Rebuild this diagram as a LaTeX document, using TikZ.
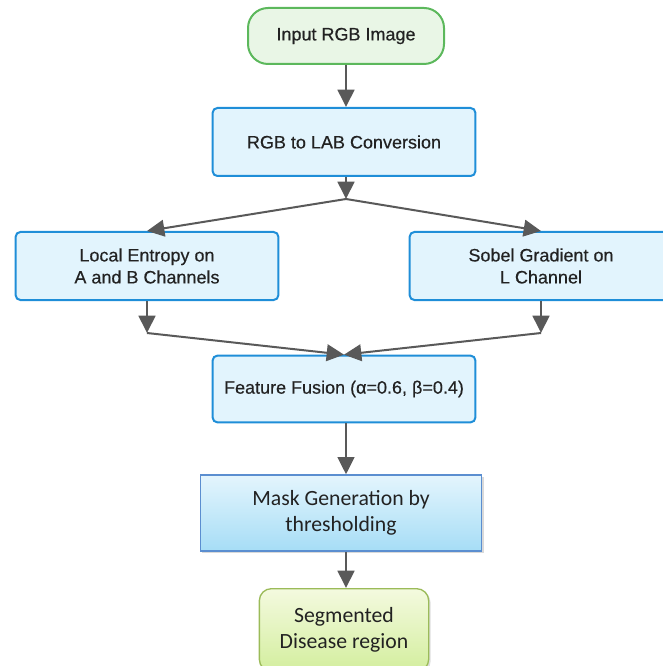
\documentclass[tikz,border=0pt]{standalone}
\usepackage{fontspec}
\setmainfont[FakeBold=0.4]{Liberation Sans}
\newfontfamily\calibri{Carlito}
\usepackage{tikz}
\usetikzlibrary{arrows.meta, shapes.geometric, positioning, shadows, calc}
\definecolor{startgreen}{HTML}{5CB85C}
\definecolor{startfill}{HTML}{E9F6E6}
\definecolor{stepblue}{HTML}{1F8ED8}
\definecolor{stepfill}{HTML}{E2F4FD}
\definecolor{maskedge}{HTML}{5B8ED0}
\definecolor{masktop}{HTML}{E4F5FD}
\definecolor{maskbottom}{HTML}{A6DDF6}
\definecolor{endedge}{HTML}{9BBB59}
\definecolor{endtop}{HTML}{F4FADF}
\definecolor{endbottom}{HTML}{D3EE9E}
\definecolor{flowgray}{HTML}{595959}
\definecolor{inkdark}{HTML}{222222}

\begin{document}
\begin{tikzpicture}[x=0.75pt, y=-0.75pt,
  terminal/.style={rectangle, draw=startgreen, fill=startfill, rounded corners=15pt, line width=1.5pt, minimum width=147pt, minimum height=42pt, align=center, text=inkdark, font=\fontsize{13.5}{16.5}\selectfont},
  process/.style={rectangle, draw=stepblue, fill=stepfill, rounded corners=3.5pt, line width=1.5pt, minimum width=197pt, minimum height=51pt, align=center, text=inkdark, font=\fontsize{13.5}{16.5}\selectfont},
  maskbox/.style={rectangle, draw=maskedge, top color=masktop, bottom color=maskbottom, line width=1pt, minimum width=211pt, minimum height=57pt, align=center, text=inkdark, drop shadow={shadow xshift=1.5pt, shadow yshift=-1.5pt, opacity=0.3}, font=\calibri\fontsize{16.3}{19.5}\selectfont},
  result/.style={rectangle, draw=endedge, top color=endtop, bottom color=endbottom, rounded corners=9pt, line width=1pt, minimum width=127pt, minimum height=62pt, align=center, text=inkdark, drop shadow={shadow xshift=1.5pt, shadow yshift=-1.5pt, opacity=0.25}, font=\calibri\fontsize{16.3}{19.5}\selectfont},
  flow/.style={draw=flowgray, line width=2pt, -{Triangle[length=13pt, width=12.5pt]}},
  link/.style={draw=flowgray, line width=1.5pt}
]
\useasboundingbox (0,0) rectangle (662,666);

\node[terminal] (input)   at (346,36)  {Input RGB Image};
\node[process]  (lab)     at (344,142) {RGB to LAB Conversion};
\node[process]  (entropy) at (147,266) {Local Entropy on\\A and B Channels};
\node[process]  (sobel)   at (541,266) {Sobel Gradient on\\L Channel};
\node[process, minimum height=50pt] (fusion) at (344,389) {Feature Fusion (α=0.6, β=0.4)};
\node[maskbox]  (mask)    at (341,513) {Mask Generation by\\thresholding};
\node[result]   (segment) at (344,630) {Segmented\\Disease region};

\coordinate (split) at (346,199);
\coordinate (leftjoin) at (147,333);
\coordinate (rightjoin) at (541,333);

\draw[flow] (input) -- (input.south |- lab.north);
\draw[flow] (lab.south -| split) -- (split);
\draw[flow, line width=1.5pt] (split) -- (entropy.north);
\draw[flow, line width=1.5pt] (split) -- (sobel.north);
\draw[flow] (entropy.south) -- (leftjoin);
\draw[flow] (sobel.south) -- (rightjoin);
\draw[flow, line width=1.5pt] (leftjoin) -- (fusion.north);
\draw[flow, line width=1.5pt] (rightjoin) -- (fusion.north);
\draw[flow] (fusion.south -| split) -- (split |- mask.north);
\draw[flow] (mask.south -| split) -- (split |- segment.north);
\end{tikzpicture}
\end{document}
